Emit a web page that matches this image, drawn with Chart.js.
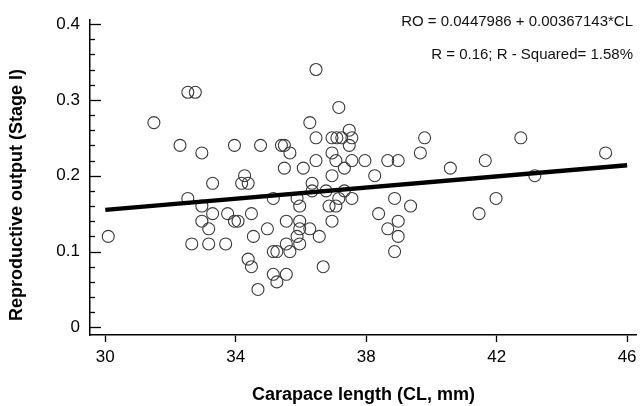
<!DOCTYPE html>
<html lang="en">

<head>
    <meta charset="UTF-8">
    <title>Reproductive output vs carapace length</title>
    <script src="https://cdn.jsdelivr.net/npm/chart.js"></script>
    <style>
        body { margin: 0; background: #fff; }
        .grafico { width: 644px; height: 406px; }
    </style>
</head>

<body>
    <div class="grafico">
        <canvas id="myChart" width="644" height="406"></canvas>
    </div>
</body>

</html>
<script>

    // carapace length (mm) and reproductive output
    const cl = [30.09, 31.49, 32.29, 32.53, 32.76, 32.96, 33.96, 34.76, 35.40, 35.49,
        35.66, 36.46, 37.16, 36.27, 36.46, 36.95, 37.10, 37.25, 37.48, 37.56,
        37.48, 36.95, 37.07, 36.46, 37.56, 37.96, 37.33, 35.49, 36.07, 34.27,
        34.18, 34.38, 39.79, 42.74, 39.66, 45.34, 38.66, 38.98, 41.65, 40.58,
        38.26, 43.17, 37.56, 38.87, 39.36, 38.38, 41.98, 41.46, 38.98, 38.66,
        38.98, 38.87, 32.53, 32.96, 33.29, 33.29, 32.96, 33.17, 32.65, 33.17,
        33.69, 33.75, 33.96, 34.07, 34.48, 34.54, 34.97, 34.38, 34.48, 35.15,
        35.15, 35.55, 35.26, 34.68, 35.15, 35.55, 35.55, 35.66, 35.88, 35.96,
        35.96, 35.96, 35.88, 35.96, 36.27, 36.56, 36.68, 36.34, 36.34, 36.77,
        36.95, 36.86, 37.07, 36.95, 37.16, 37.33, 35.26];
    const ro = [0.12, 0.27, 0.24, 0.31, 0.31, 0.23, 0.24, 0.24, 0.24, 0.24,
        0.23, 0.34, 0.29, 0.27, 0.25, 0.25, 0.25, 0.25, 0.26, 0.25,
        0.24, 0.23, 0.22, 0.22, 0.22, 0.22, 0.21, 0.21, 0.21, 0.20,
        0.19, 0.19, 0.25, 0.25, 0.23, 0.23, 0.22, 0.22, 0.22, 0.21,
        0.20, 0.20, 0.17, 0.17, 0.16, 0.15, 0.17, 0.15, 0.14, 0.13,
        0.12, 0.10, 0.17, 0.16, 0.19, 0.15, 0.14, 0.13, 0.11, 0.11,
        0.11, 0.15, 0.14, 0.14, 0.15, 0.12, 0.13, 0.09, 0.08, 0.10,
        0.07, 0.07, 0.06, 0.05, 0.17, 0.14, 0.11, 0.10, 0.17, 0.16,
        0.14, 0.13, 0.12, 0.11, 0.13, 0.12, 0.08, 0.19, 0.18, 0.18,
        0.20, 0.16, 0.16, 0.14, 0.17, 0.18, 0.10];

    // fitted line RO = a + b*CL
    const intercept = 0.0447986;
    const slope = 0.00367143;
    const fitRange = [30, 46];

    const xTicks = [30, 34, 38, 42, 46];
    const yTicks = [0, 0.1, 0.2, 0.3, 0.4];
    const yMinorStep = 0.02;

    const fonte = 'Liberation Sans, Arial, sans-serif';

    // y ticks point into the plot, long for labelled values, short in between
    const ticksDentro = {
        id: 'ticksDentro',
        afterDraw(chart) {
            const c = chart.ctx;
            const y = chart.scales.y;
            const x0 = chart.chartArea.left;
            c.save();
            c.strokeStyle = '#000';
            c.lineWidth = 1.3;
            for (let k = 0; k <= 20; k++) {
                const v = k * yMinorStep;
                const major = k % 5 === 0;
                const py = Math.round(y.getPixelForValue(v)) + 0.5;
                c.beginPath();
                c.moveTo(x0, py);
                c.lineTo(x0 + (major ? 11 : 5), py);
                c.stroke();
            }
            c.restore();
        }
    };

    // equation text and the y title (the original's title sits a bit below centre)
    const textos = {
        id: 'textos',
        afterDraw(chart) {
            const c = chart.ctx;
            c.save();
            c.fillStyle = '#111';
            c.font = '15px ' + fonte;
            c.textAlign = 'right';
            c.textBaseline = 'middle';
            c.fillText('RO = 0.0447986 + 0.00367143*CL', 633, 22);
            c.fillText('R = 0.16; R - Squared= 1.58%', 633, 55);

            c.fillStyle = '#000';
            c.font = 'bold 18px ' + fonte;
            c.textAlign = 'center';
            c.translate(17, 195);
            c.rotate(-Math.PI / 2);
            c.fillText('Reproductive output (Stage I)', 0, 0);
            c.restore();
        }
    };

    const ctx = document.getElementById('myChart');

    new Chart(ctx, {
        type: 'scatter',
        data: {
            datasets: [{
                label: 'Observed',
                data: cl.map((v, i) => ({ x: v, y: ro[i] })),
                pointStyle: 'circle',
                pointRadius: 6,
                pointBorderWidth: 1.1,
                pointBorderColor: '#3a3a3a',
                pointBackgroundColor: 'rgba(255,255,255,0)',
                order: 2
            }, {
                type: 'line',
                label: 'Fit',
                data: fitRange.map(v => ({ x: v, y: intercept + slope * v })),
                borderColor: '#000',
                borderWidth: 4.5,
                pointRadius: 0,
                fill: false,
                order: 1
            }]
        },
        options: {
            responsive: false,
            animation: false,
            layout: {
                padding: { top: 19, right: 5, left: 0, bottom: 0 }
            },
            scales: {
                x: {
                    type: 'linear',
                    min: 29.53,
                    max: 46.3,
                    afterBuildTicks: s => { s.ticks = xTicks.map(v => ({ value: v })); },
                    afterFit: s => { s.height = 71; },
                    ticks: {
                        color: '#000',
                        padding: 5,
                        font: { family: fonte, size: 17 }
                    },
                    grid: {
                        drawOnChartArea: false,
                        tickLength: 7,
                        tickColor: '#000',
                        tickWidth: 1.3
                    },
                    border: { color: '#000', width: 1.5 },
                    title: {
                        display: true,
                        text: 'Carapace length (CL, mm)',
                        color: '#000',
                        padding: { top: 0, bottom: 0 },
                        font: { family: fonte, size: 18, weight: 'bold' }
                    }
                },
                y: {
                    min: -0.01,
                    max: 0.405,
                    afterBuildTicks: s => { s.ticks = yTicks.map(v => ({ value: v })); },
                    afterFit: s => { s.width = 90; },
                    ticks: {
                        color: '#000',
                        padding: 10,
                        font: { family: fonte, size: 17 }
                    },
                    grid: {
                        drawOnChartArea: false,
                        drawTicks: false
                    },
                    border: { color: '#000', width: 1.5 }
                }
            },
            plugins: {
                legend: { display: false },
                tooltip: { enabled: false }
            }
        },
        plugins: [ticksDentro, textos]
    });
</script>
